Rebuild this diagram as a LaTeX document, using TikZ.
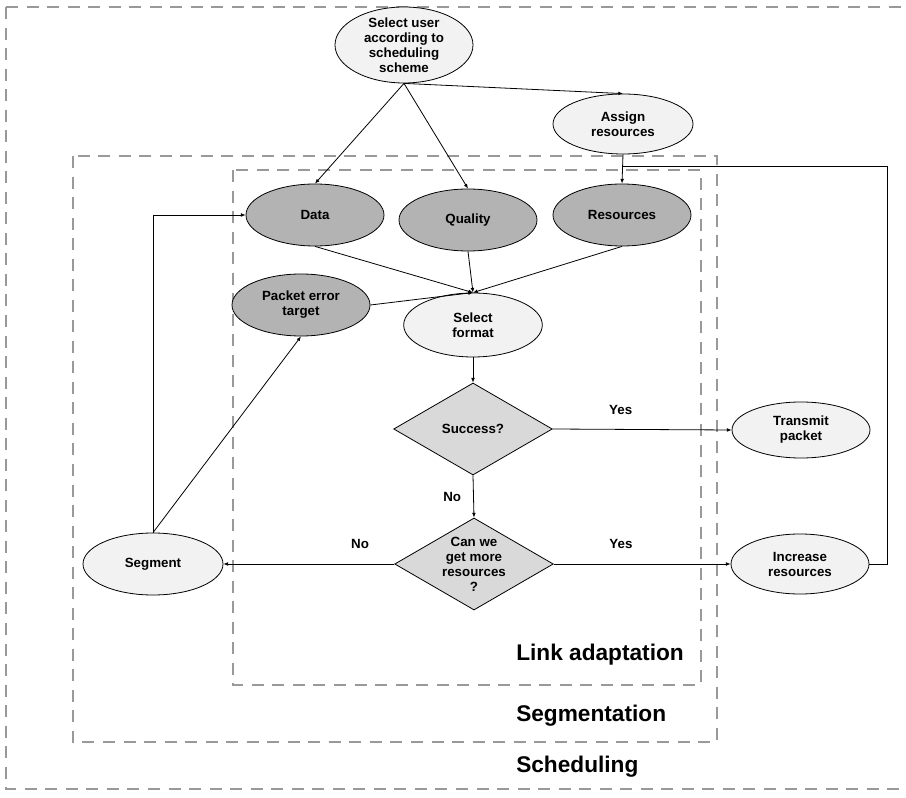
\documentclass[tikz,border=0pt]{standalone}
\usepackage{fontspec}
\setmainfont{Liberation Sans}
\usetikzlibrary{shapes.geometric,arrows.meta}
\definecolor{darkfill}{HTML}{B3B3B3}
\definecolor{lightfill}{HTML}{F2F2F2}
\definecolor{diafill}{HTML}{D9D9D9}
\definecolor{dashgrey}{HTML}{999999}
\tikzset{
  txt/.style={font=\fontsize{10}{11.25}\selectfont\bfseries, align=center, inner sep=0pt},
  ell/.style={ellipse, draw=black, line width=0.6pt, inner sep=0pt},
  lightell/.style={ell, fill=lightfill},
  darkell/.style={ell, fill=darkfill},
  decision/.style={diamond, draw=black, line width=0.6pt, fill=diafill, inner sep=0pt},
  conn/.style={draw=black, line width=0.6pt, -{Latex[length=3.5pt,width=2.8pt]}},
  plain/.style={draw=black, line width=0.6pt},
  region/.style={draw=dashgrey, line width=2.1pt, dash pattern=on 9pt off 6.4pt},
  regionlabel/.style={font=\fontsize{17}{20}\selectfont\bfseries, anchor=west, inner sep=0pt},
  elabel/.style={font=\fontsize{10}{12}\selectfont\bfseries, inner sep=0pt},
}
\begin{document}
\begin{tikzpicture}[x=0.75pt,y=-0.75pt]
\useasboundingbox (0,0) rectangle (906,798);
% regions
\draw[region] (6,7) -- (912,7) (6,7) -- (6,789) -- (912,789);
\draw[region] (73,156) rectangle (717,742);
\draw[region] (233,170) rectangle (701,685);
\node[regionlabel] (lla) at (516,655) {Link adaptation};
\node[regionlabel] (lseg) at (516,716) {Segmentation};
\node[regionlabel] (lsch) at (516,767) {Scheduling};
% nodes
\node[lightell, minimum width=103.5pt, minimum height=57pt,
  label={[txt]center:Select user\\according to\\scheduling\\scheme}] (su) at (404,45) {};
\node[lightell, minimum width=105pt, minimum height=45pt,
  label={[txt]center:Assign\\resources}] (ar) at (623,124) {};
\node[darkell, minimum width=103.5pt, minimum height=46.5pt,
  label={[txt]center:Data}] (data) at (315,215) {};
\node[darkell, minimum width=103.5pt, minimum height=46.5pt,
  label={[txt]center:Quality}] (qual) at (468,220) {};
\node[darkell, minimum width=103.5pt, minimum height=46.5pt,
  label={[txt]center:Resources}] (res) at (622,215) {};
\node[darkell, minimum width=103.5pt, minimum height=46.5pt,
  label={[txt]center:Packet error\\target}] (pet) at (301,305) {};
\node[lightell, minimum width=104pt, minimum height=48pt,
  label={[txt]center:Select\\format}] (sf) at (473,325) {};
\node[decision, minimum width=119pt, minimum height=69pt,
  label={[txt]center:Success?}] (succ) at (473,429) {};
\node[decision, minimum width=119pt, minimum height=69pt,
  label={[txt]center:Can we\\get more\\resources\\?}] (more) at (474,564) {};
\node[lightell, minimum width=103.5pt, minimum height=42pt,
  label={[txt]center:Transmit\\packet}] (tp) at (801,430) {};
\node[lightell, minimum width=103.5pt, minimum height=45pt,
  label={[txt]center:Increase\\resources}] (ir) at (800,564) {};
\node[lightell, minimum width=105pt, minimum height=46.5pt,
  label={[txt]center:Segment}] (seg) at (153,564) {};
\coordinate (rtop) at (887,166);
\coordinate (join) at (res.north |- rtop);
% connectors
\draw[conn] (su.south) -- (data.north);
\draw[conn] (su.south) -- (qual.north);
\draw[conn] (su.south) -- (ar.north);
\draw[conn] (ar.south) -- (res.north);
\draw[plain] (ir.east) -| (rtop) -- (join);
\draw[conn] (data.south) -- (sf.north);
\draw[conn] (qual.south) -- (sf.north);
\draw[conn] (res.south) -- (sf.north);
\draw[conn] (pet.east) -- (sf.north);
\draw[conn] (sf.south) -- (succ.north);
\draw[conn] (succ.east) -- node[elabel, above=11pt, pos=0.38] {Yes} (tp.west);
\draw[conn] (succ.south) -- node[elabel, left=9pt] {No} (more.north);
\draw[conn] (more.east) -- node[elabel, above=11pt, pos=0.38] {Yes} (ir.west);
\draw[conn] (more.west) -- node[elabel, above=11pt, pos=0.2] {No} (seg.east);
\draw[conn] (seg.north) |- (data.west);
\draw[conn] (seg.north) -- (pet.south);
\end{tikzpicture}
\end{document}
